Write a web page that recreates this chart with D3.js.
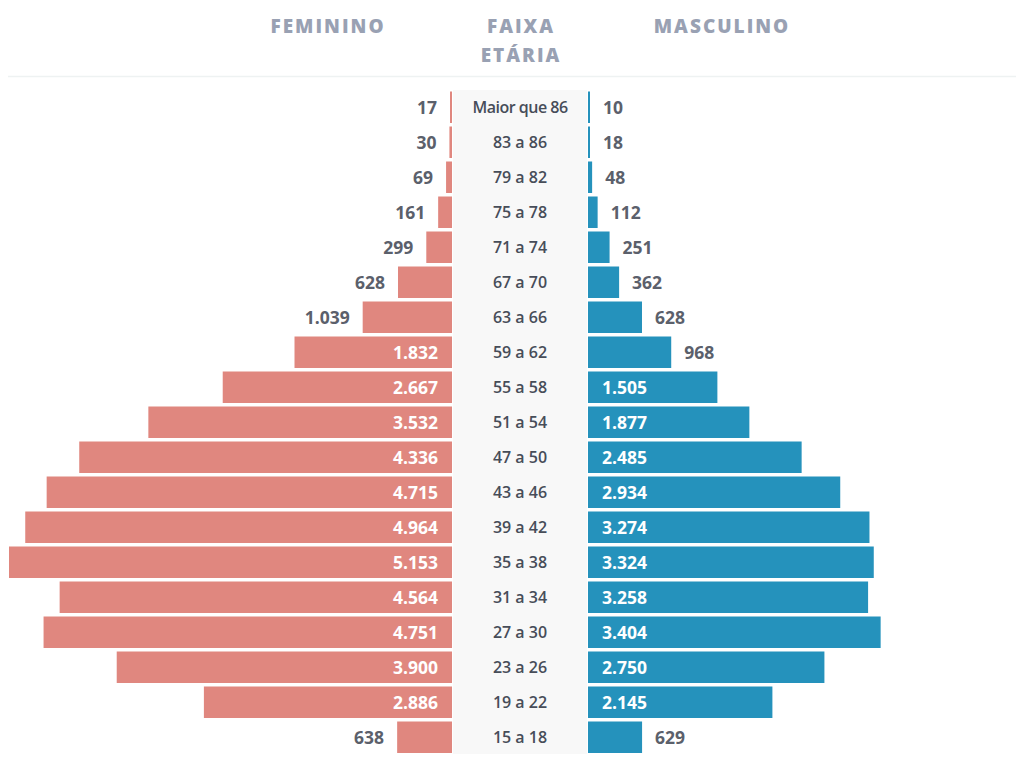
<!DOCTYPE html>
<html><head><meta charset="utf-8">
<script src="https://cdn.jsdelivr.net/npm/d3@7"></script>
<style>
html,body{margin:0;padding:0;background:#fff;}
svg{display:block;font-family:"Open Sans",sans-serif;}
</style></head>
<body><svg id="chart" width="1016" height="780"></svg>
<script>
const ages = ["Maior que 86","83 a 86","79 a 82","75 a 78","71 a 74","67 a 70","63 a 66","59 a 62","55 a 58","51 a 54","47 a 50","43 a 46","39 a 42","35 a 38","31 a 34","27 a 30","23 a 26","19 a 22","15 a 18"];
const feminino = [17,30,69,161,299,628,1039,1832,2667,3532,4336,4715,4964,5153,4564,4751,3900,2886,638];
const masculino = [10,18,48,112,251,362,628,968,1505,1877,2485,2934,3274,3324,3258,3404,2750,2145,629];
const headers = ["FEMININO","FAIXA","ETÁRIA","MASCULINO"];

const svg = d3.select("#chart");
const fmt = d3.formatLocale({decimal:",",thousands:".",grouping:[3],currency:["R$",""]}).format(",d");
const maxV = d3.max(feminino);
const y = d3.scaleBand().domain(ages).range([89.75, 754.75]).paddingInner(0.1).paddingOuter(0.05);
const xF = d3.scaleLinear().domain([0, maxV]).range([452, 9]);
const xM = d3.scaleLinear().domain([0, maxV]).range([588, 1031]);
const cF = "#e0877f", cM = "#2592bc";
const thr = 1200;

// header
const hc = "#99a1b3";
const hg = svg.append("g").attr("fill", hc).attr("font-weight", 800).attr("font-size", 19).attr("letter-spacing", 2).attr("text-anchor","middle");
hg.append("text").attr("x", 328).attr("y", 33).text(headers[0]);
hg.append("text").attr("x", 521).attr("y", 33).text(headers[1]);
hg.append("text").attr("x", 521).attr("y", 62).text(headers[2]);
hg.append("text").attr("x", 722).attr("y", 33).text(headers[3]);
svg.append("line").attr("x1", 8).attr("x2", 1016).attr("y1", 76.5).attr("y2", 76.5).attr("stroke", "#eef2f2").attr("stroke-width", 1.5);

// center panel
svg.append("rect").attr("x", 453).attr("y", 90).attr("width", 134).attr("height", 664).attr("fill", "#f8f8f8");

const rows = ages.map((a,i)=>({age:a, f:feminino[i], m:masculino[i]}));

// female bars
svg.append("g").selectAll("rect").data(rows).join("rect")
  .attr("x", d => xF(0) - Math.max(2, xF(0) - xF(d.f)))
  .attr("width", d => Math.max(2, xF(0) - xF(d.f)))
  .attr("y", d => y(d.age)).attr("height", y.bandwidth())
  .attr("fill", cF);
// male bars
svg.append("g").selectAll("rect").data(rows).join("rect")
  .attr("x", xM(0))
  .attr("width", d => Math.max(2, xM(d.m) - xM(0)))
  .attr("y", d => y(d.age)).attr("height", y.bandwidth())
  .attr("fill", cM);

const cy = d => y(d.age) + y.bandwidth()/2;
// female labels
svg.append("g").attr("font-size", 17.5).attr("font-weight", 700).attr("text-anchor","end")
  .selectAll("text").data(rows).join("text")
  .attr("x", d => d.f >= thr ? xF(0) - 14 : xF(0) - Math.max(2, xF(0) - xF(d.f)) - 13)
  .attr("y", cy).attr("dy", "0.36em")
  .attr("fill", d => d.f >= thr ? "#ffffff" : "#5b606b")
  .text(d => fmt(d.f));
// male labels
svg.append("g").attr("font-size", 17.5).attr("font-weight", 700).attr("text-anchor","start")
  .selectAll("text").data(rows).join("text")
  .attr("x", d => d.m >= thr ? xM(0) + 14 : xM(0) + Math.max(2, xM(d.m) - xM(0)) + 13)
  .attr("y", cy).attr("dy", "0.36em")
  .attr("fill", d => d.m >= thr ? "#ffffff" : "#5b606b")
  .text(d => fmt(d.m));
// age labels
svg.append("g").attr("font-size", 16).attr("font-weight", 600).attr("text-anchor","middle").attr("fill", "#474d59")
  .selectAll("text").data(rows).join("text")
  .attr("x", 520).attr("y", cy).attr("dy", "0.36em")
  .attr("letter-spacing", d => d.age.length > 8 ? -0.5 : 0)
  .text(d => d.age);
</script></body></html>
